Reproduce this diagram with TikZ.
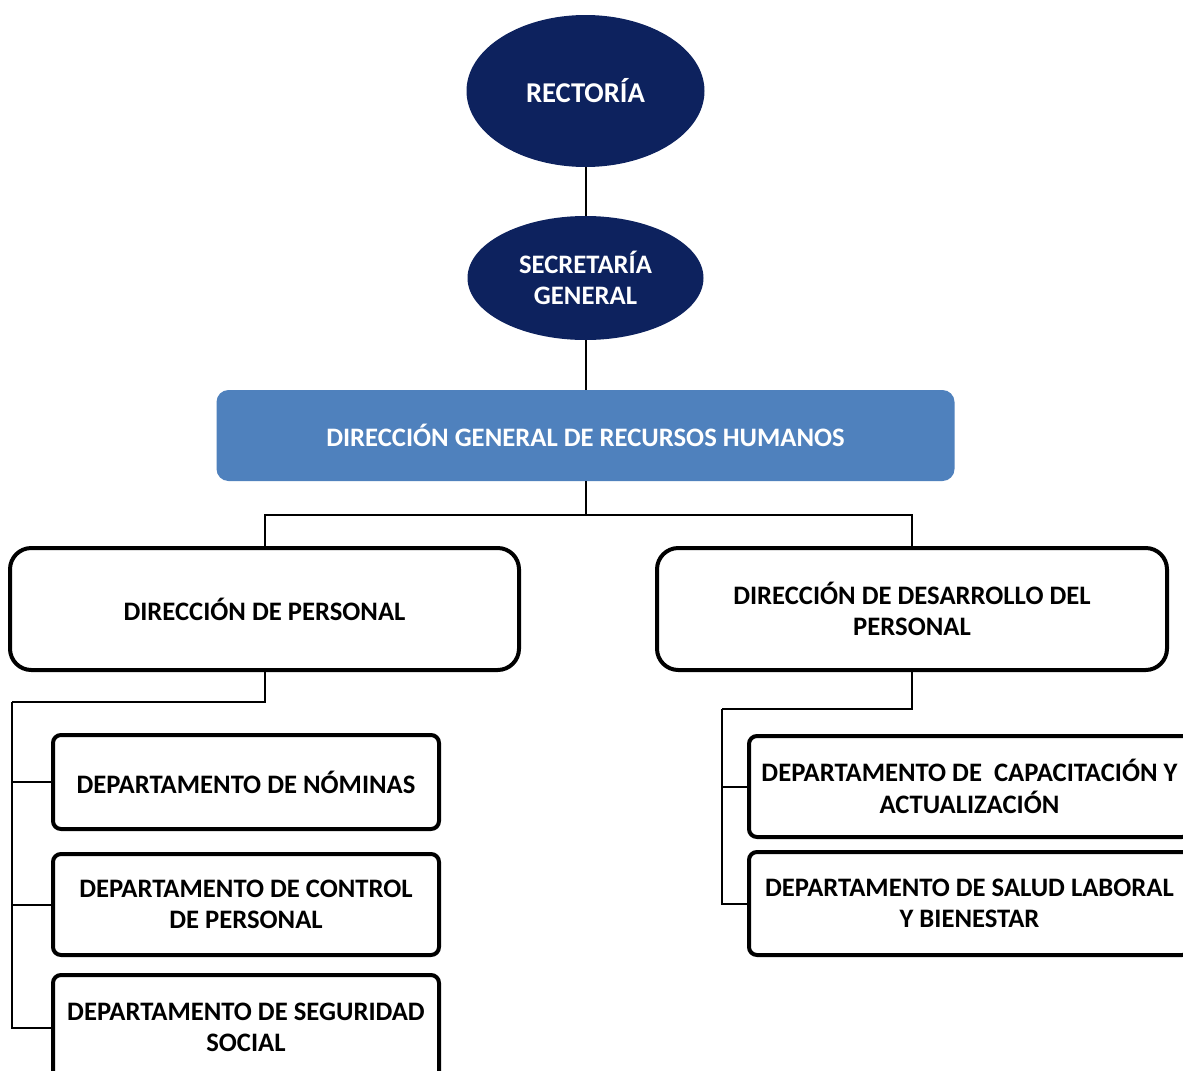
\documentclass[tikz,border=0pt]{standalone}
\usepackage{fontspec}
\setmainfont{Carlito}
\usetikzlibrary{shapes.geometric}
\definecolor{navy}{HTML}{0D225E}
\definecolor{steel}{HTML}{4F81BD}
\begin{document}
\begin{tikzpicture}[x=0.75pt,y=-0.75pt,
  lbl/.style={font=\bfseries\fontsize{20}{23.5}\selectfont, align=center, inner sep=0pt},
  oval/.style={lbl, ellipse, fill=navy, text=white},
  banner/.style={lbl, rectangle, rounded corners=9pt, fill=steel, text=white},
  dirbox/.style={lbl, rectangle, rounded corners=16pt, draw=black, line width=3pt, fill=white},
  deptbox/.style={lbl, rectangle, rounded corners=6pt, draw=black, line width=3pt, fill=white},
  link/.style={draw=black, line width=1.5pt}]
\useasboundingbox (0,0) rectangle (1183,1071);
\clip (0,0) rectangle (1183,1071);
\fill[white] (0,0) rectangle (1183,1071);

% top of the hierarchy
\node[oval, minimum width=178.5pt, minimum height=114pt, font=\bfseries\fontsize{21.5}{24}\selectfont] (rect) at (585.5,91) {RECTORÍA};
\node[oval, minimum width=177pt, minimum height=93pt] (sec) at (585.5,278) {SECRETARÍA\\GENERAL};
\node[banner, minimum width=553.5pt, minimum height=68.25pt] (dg) at (585.5,435.5) {DIRECCIÓN GENERAL DE RECURSOS HUMANOS};

% directorates
\node[dirbox, minimum width=381.75pt, minimum height=91.5pt] (dp) at (264.5,609) {DIRECCIÓN DE PERSONAL};
\node[dirbox, minimum width=382.5pt, minimum height=91.5pt] (dd) at (912,609) {DIRECCIÓN DE DESARROLLO DEL\\PERSONAL};

% departments under Dirección de Personal
\node[deptbox, minimum width=289.5pt, minimum height=70.5pt] (nom) at (246,782) {DEPARTAMENTO DE NÓMINAS};
\node[deptbox, minimum width=289.5pt, minimum height=75.75pt] (ctl) at (246,904.5) {DEPARTAMENTO DE CONTROL\\DE PERSONAL};
\node[deptbox, minimum width=289.5pt, minimum height=78.75pt] (seg) at (246,1027.5) {DEPARTAMENTO DE SEGURIDAD\\SOCIAL};

% departments under Dirección de Desarrollo del Personal
\node[deptbox, minimum width=330.75pt, minimum height=75.75pt] (cap) at (969.5,786.5) {DEPARTAMENTO DE\ \ CAPACITACIÓN Y\\ACTUALIZACIÓN};
\node[deptbox, minimum width=330.75pt, minimum height=77.25pt] (sal) at (969.5,903.5) {DEPARTAMENTO DE SALUD LABORAL\\Y BIENESTAR};

% connectors
\coordinate (j1) at (585.5,515);
\coordinate (lb) at (12,702);
\coordinate (rb) at (722,709);
\draw[link] (rect.south) -- (sec.north);
\draw[link] (sec.south) -- (dg.north);
\draw[link] (dg.south) -- (j1);
\draw[link] (dp.north) |- (j1) -| (dd.north);
\draw[link] (dp.south) |- (lb);
\draw[link] (lb) |- (nom.west);
\draw[link] (lb) |- (ctl.west);
\draw[link] (lb) |- (seg.west);
\draw[link] (dd.south) |- (rb);
\draw[link] (rb) |- (cap.west);
\draw[link] (rb) |- (sal.west);
\end{tikzpicture}
\end{document}
